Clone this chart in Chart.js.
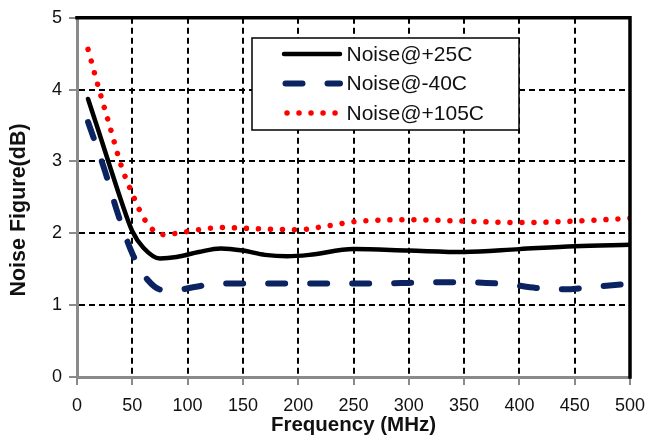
<!DOCTYPE html>
<html>
<head>
<meta charset="utf-8">
<script src="https://cdn.jsdelivr.net/npm/chart.js@4/dist/chart.umd.min.js"></script>
<style>
  html, body { margin: 0; padding: 0; background: #ffffff; }
  #wrap { width: 649px; height: 441px; }
</style>
</head>
<body>
<div id="wrap"><canvas id="nf" width="649" height="441"></canvas></div>
<script>
// Noise figure vs. frequency at three temperatures
const seriesLabels = ['Noise@+25C', 'Noise@-40C', 'Noise@+105C'];

const freq25 = [10, 20, 30, 40, 50, 60, 75, 90, 110, 130, 150, 170, 190, 210, 250, 300, 350, 400, 450, 500];
const nf25   = [3.87, 3.40, 2.92, 2.45, 2.03, 1.80, 1.65, 1.67, 1.74, 1.79, 1.76, 1.70, 1.68, 1.70, 1.78, 1.76, 1.74, 1.78, 1.82, 1.84];

const freqM40 = [10, 25, 37, 50, 64, 78, 90, 105, 130, 170, 250, 300, 330, 370, 390, 415, 440, 470, 500];
const nfM40   = [3.55, 2.88, 2.27, 1.72, 1.35, 1.21, 1.21, 1.25, 1.30, 1.30, 1.30, 1.31, 1.32, 1.31, 1.29, 1.24, 1.22, 1.26, 1.30];

const freq105 = [10, 20, 30, 40, 50, 60, 70, 80, 90, 110, 130, 170, 200, 225, 250, 300, 350, 400, 450, 500];
const nf105   = [4.56, 4.00, 3.47, 2.94, 2.55, 2.22, 2.03, 1.98, 2.00, 2.05, 2.08, 2.06, 2.05, 2.10, 2.16, 2.19, 2.17, 2.15, 2.17, 2.21];

const xTicks = [0, 50, 100, 150, 200, 250, 300, 350, 400, 450, 500];
const yTicks = [0, 1, 2, 3, 4, 5];

const xTitle = 'Frequency (MHz)';
const yTitle = 'Noise Figure(dB)';

const FONT = '"Liberation Sans", Arial, sans-serif';

function pairs(xs, ys) {
  return xs.map((x, i) => ({ x: x, y: ys[i] }));
}

// Top and right frame edges drawn in heavy black
const framePlugin = {
  id: 'frame',
  afterDatasetsDraw(chart) {
    const a = chart.chartArea;
    const ctx = chart.ctx;
    ctx.save();
    ctx.strokeStyle = '#000000';
    ctx.lineWidth = 3.5;
    ctx.lineCap = 'square';
    ctx.beginPath();
    ctx.moveTo(a.left, a.top);
    ctx.lineTo(a.right, a.top);
    ctx.lineTo(a.right, a.bottom);
    ctx.stroke();
    ctx.restore();
  }
};

// Bold axis titles
const axisTitlePlugin = {
  id: 'axisTitles',
  afterDraw(chart) {
    const ctx = chart.ctx;
    const a = chart.chartArea;
    ctx.save();
    ctx.fillStyle = '#111111';
    ctx.textAlign = 'center';
    ctx.textBaseline = 'middle';
    ctx.font = 'bold 20.5px ' + FONT;
    ctx.fillText(xTitle, (a.left + a.right) / 2, 425);
    ctx.translate(19.5, 210);
    ctx.rotate(-Math.PI / 2);
    ctx.font = 'bold 21.5px ' + FONT;
    ctx.fillText(yTitle, 0, 0);
    ctx.restore();
  }
};

// Boxed legend placed inside the plot
const boxLegendPlugin = {
  id: 'boxLegend',
  afterDraw(chart) {
    const ctx = chart.ctx;
    const box = { x: 252, y: 38, w: 267, h: 92 };
    ctx.save();
    ctx.fillStyle = '#ffffff';
    ctx.fillRect(box.x, box.y, box.w, box.h);
    ctx.strokeStyle = '#000000';
    ctx.lineWidth = 1.5;
    ctx.strokeRect(box.x, box.y, box.w, box.h);
    chart.data.datasets.forEach((ds, i) => {
      const y = 54 + i * 29.5;
      ctx.save();
      ctx.strokeStyle = ds.borderColor;
      ctx.lineWidth = ds.borderWidth;
      ctx.lineCap = ds.borderCapStyle || 'butt';
      ctx.setLineDash(ds.borderDash || []);
      ctx.beginPath();
      if (i === 2) {
        ctx.moveTo(287, y);
        ctx.lineTo(336, y);
      } else if (i === 1) {
        ctx.moveTo(285.5, y);
        ctx.lineTo(340, y);
      } else {
        ctx.moveTo(284, y);
        ctx.lineTo(340, y);
      }
      ctx.stroke();
      ctx.restore();
      ctx.fillStyle = '#111111';
      ctx.font = '21px ' + FONT;
      ctx.textBaseline = 'middle';
      ctx.textAlign = 'left';
      ctx.fillText(ds.label, 346.5, y + 1);
    });
    ctx.restore();
  }
};

const gridStyle = {
  color: '#000000',
  lineWidth: 2,
  tickColor: '#8a8a8a',
  tickLength: 8,
  tickWidth: 2,
  tickBorderDash: []
};

// border.dash styles the grid lines in Chart.js v4; the axis line itself stays solid
const axisBorder = { color: '#8a8a8a', width: 3, dash: [6, 4] };

new Chart(document.getElementById('nf'), {
  type: 'line',
  data: {
    datasets: [
      {
        label: seriesLabels[0],
        data: pairs(freq25, nf25),
        borderColor: '#000000',
        borderWidth: 4.5,
        borderCapStyle: 'round',
        cubicInterpolationMode: 'monotone',
        pointRadius: 0
      },
      {
        label: seriesLabels[1],
        data: pairs(freqM40, nfM40),
        borderColor: '#0b2461',
        borderWidth: 6,
        borderDash: [17, 25],
        borderCapStyle: 'round',
        cubicInterpolationMode: 'monotone',
        pointRadius: 0
      },
      {
        label: seriesLabels[2],
        data: pairs(freq105, nf105),
        borderColor: '#ff0000',
        borderWidth: 5.5,
        borderDash: [0.01, 12],
        borderCapStyle: 'round',
        cubicInterpolationMode: 'monotone',
        pointRadius: 0
      }
    ]
  },
  options: {
    responsive: false,
    devicePixelRatio: 1,
    animation: false,
    layout: { padding: { left: 0, top: 17, right: 19, bottom: 0 } },
    plugins: {
      legend: { display: false },
      tooltip: { enabled: false }
    },
    scales: {
      x: {
        type: 'linear',
        min: 0,
        max: 500,
        afterBuildTicks(scale) { scale.ticks = xTicks.map(v => ({ value: v })); },
        afterFit(scale) {
          scale.height = 64;
          // side room for the end labels comes from layout padding instead
          scale.paddingLeft = 0;
          scale.paddingRight = 0;
        },
        grid: gridStyle,
        border: axisBorder,
        ticks: {
          color: '#111111',
          padding: 10,
          maxRotation: 0,
          font: { family: FONT, size: 18 }
        }
      },
      y: {
        type: 'linear',
        min: 0,
        max: 5,
        afterBuildTicks(scale) { scale.ticks = yTicks.map(v => ({ value: v })); },
        afterFit(scale) { scale.width = 77; },
        grid: gridStyle,
        border: axisBorder,
        ticks: {
          color: '#111111',
          padding: 7,
          font: { family: FONT, size: 18 }
        }
      }
    }
  },
  plugins: [framePlugin, axisTitlePlugin, boxLegendPlugin]
});
</script>
</body>
</html>
